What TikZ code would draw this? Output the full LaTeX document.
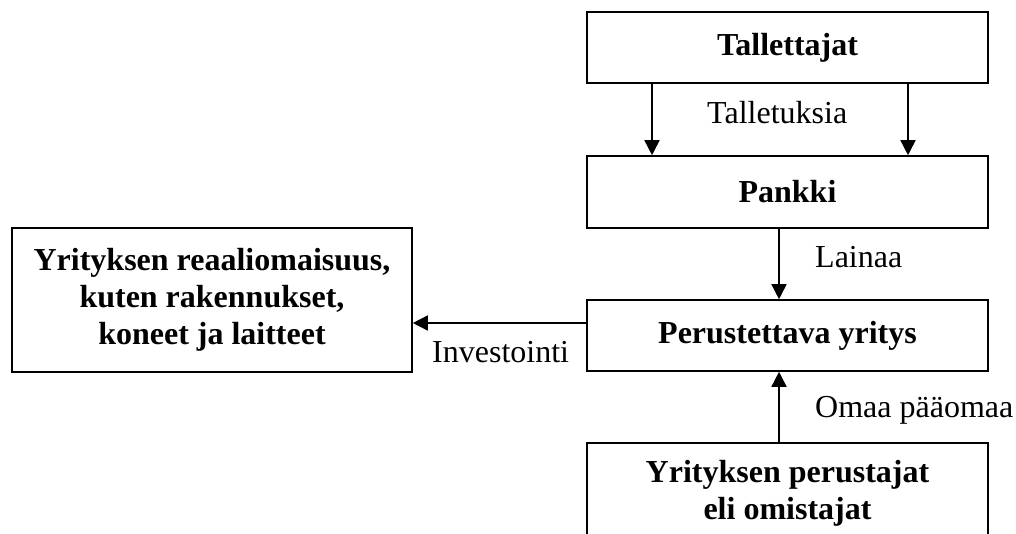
\documentclass[tikz,border=0pt]{standalone}
\usepackage{fontspec}
\setmainfont{Liberation Serif}
\usetikzlibrary{arrows.meta}
\tikzset{
  box/.style={draw, line width=1.6pt, font=\fontsize{32}{37}\selectfont\bfseries, align=center, inner sep=0pt, minimum width=401pt},
  arr/.style={line width=1.6pt, -{Triangle[length=15pt,width=15pt]}},
  lbl/.style={font=\fontsize{32}{37}\selectfont, inner sep=0pt, anchor=base west}
}
\begin{document}
\begin{tikzpicture}[x=1pt,y=-1pt]
\useasboundingbox (0,0) rectangle (1016,533);
\node[box, minimum height=71pt] (tal) at (787.5,47.5) {Tallettajat};
\node[box, minimum height=72pt] (pan) at (787.5,192) {Pankki};
\node[box, minimum height=71pt] (per) at (787.5,335.5) {Perustettava yritys};
\node[box, minimum width=400pt, minimum height=144pt] (lft) at (212,300) {Yrityksen reaaliomaisuus,\\kuten rakennukset,\\koneet ja laitteet};
\node[box, minimum height=100pt] (own) at (787.5,493) {Yrityksen perustajat\\eli omistajat};
\draw[arr] ([xshift=-135.5pt]tal.south) -- ([xshift=-135.5pt]pan.north);
\draw[arr] ([xshift=120.5pt]tal.south) -- ([xshift=120.5pt]pan.north);
\draw[arr] ([xshift=-8.5pt]pan.south) -- ([xshift=-8.5pt]per.north);
\draw[arr] ([xshift=-8.5pt]own.north) -- ([xshift=-8.5pt]per.south);
\path ([yshift=12.5pt]per.west) coordinate (iv);
\draw[arr] (iv) -- (iv -| lft.east);
\node[lbl] (t1) at (707,123) {Talletuksia};
\node[lbl] (t2) at (815,267) {Lainaa};
\node[lbl] (t3) at (432,362) {Investointi};
\node[lbl] (t4) at (815,417) {Omaa pääomaa};
\end{tikzpicture}
\end{document}
